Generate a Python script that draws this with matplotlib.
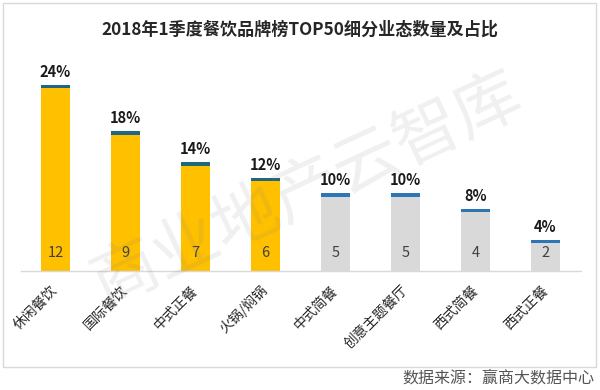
import matplotlib
matplotlib.use('Agg')
from matplotlib import pyplot as plt
from matplotlib.patches import Rectangle

plt.rcParams['font.family'] = ['Noto Sans CJK SC', 'DejaVu Sans']

# 数据
categories = ['休闲餐饮', '国际餐饮', '中式正餐', '火锅/焖锅', '中式简餐', '创意主题餐厅', '西式简餐', '西式正餐']
counts = [12, 9, 7, 6, 5, 5, 4, 2]
shares = ['24%', '18%', '14%', '12%', '10%', '10%', '8%', '4%']
bar_colors = ['#FFC000'] * 4 + ['#D9D9D9'] * 4
cap_colors = ['#1F6680'] * 4 + ['#2E75B6'] * 4

fig = plt.figure(figsize=(6, 3.9), dpi=100)
fig.patch.set_facecolor('white')

# 外框
fig.add_artist(Rectangle((3 / 600, 1 - 367 / 390), 593 / 600, 364 / 390,
                         transform=fig.transFigure, fill=False,
                         edgecolor='#D9D9D9', linewidth=1))

ax = fig.add_axes([20.5 / 600, (390 - 271) / 390, 560 / 600, 201.5 / 390])
x = list(range(len(categories)))
cap = 0.2
ax.bar(x, [c - cap for c in counts], width=0.41, color=bar_colors, zorder=2)
ax.bar(x, [cap] * len(counts), bottom=[c - cap for c in counts], width=0.41,
       color=cap_colors, zorder=2)

for i in x:
    ax.text(i, counts[i] + 0.35, shares[i], ha='center', va='bottom',
            fontsize=10.5, fontweight='bold', color='#1A1A1A', clip_on=False)
    ax.text(i, 1.15, str(counts[i]), ha='center', va='center',
            fontsize=10.5, color='#404040', zorder=3)

ax.set_xlim(-0.5, 7.5)
ax.set_ylim(0, 13)
ax.set_xticks(x)
ax.set_xticklabels(categories, rotation=45, ha='right', va='center',
                   rotation_mode='anchor', fontsize=10, color='#262626')
ax.tick_params(axis='x', length=0, pad=12)
ax.set_yticks([])
for s in ['top', 'right', 'left']:
    ax.spines[s].set_visible(False)
ax.spines['bottom'].set_color('#D9D9D9')
ax.spines['bottom'].set_linewidth(1)

fig.text(0.5, 1 - 30 / 390, '2018年1季度餐饮品牌榜TOP50细分业态数量及占比',
         ha='center', va='center', fontsize=12.3, fontweight='bold', color='#262626')

# 水印
fig.text(308 / 600, 1 - 190 / 390, '商业地产云智库', ha='center', va='center',
         fontsize=48, rotation=25, color='#808080', alpha=0.12, zorder=5)

fig.text(594 / 600, 1 - 378 / 390, '数据来源：赢商大数据中心', ha='right', va='center',
         fontsize=11.5, color='#555555')

fig.savefig('out.png', dpi=100)
